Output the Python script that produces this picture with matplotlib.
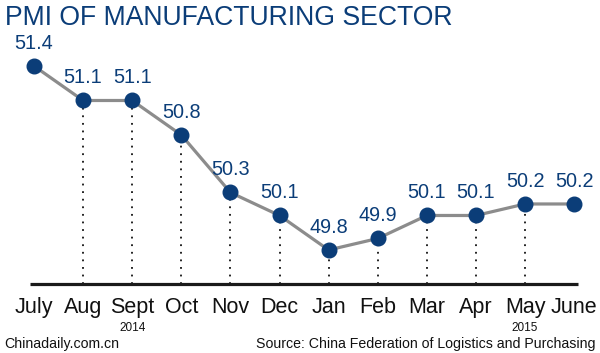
import matplotlib
matplotlib.use("Agg")
import matplotlib.pyplot as plt
import matplotlib.transforms as mtransforms

plt.rcParams['font.family'] = ['Liberation Sans', 'DejaVu Sans']

months = ['July', 'Aug', 'Sept', 'Oct', 'Nov', 'Dec', 'Jan', 'Feb', 'Mar', 'Apr', 'May', 'June']
pmi = [51.4, 51.1, 51.1, 50.8, 50.3, 50.1, 49.8, 49.9, 50.1, 50.1, 50.2, 50.2]
years = {2: '2014', 10: '2015'}

BLUE = '#0b3d78'
H = 353

fig = plt.figure(figsize=(6, 3.53), dpi=100)
ax = fig.add_axes([0, 0, 1, 1])
ax.set_xlim(-0.6925, 11.527)
ax.set_ylim(48.904, 51.974)
ax.axis('off')

x = list(range(len(months)))
base = 49.504

# dotted drop lines (not under first and last point)
for i, v in zip(x, pmi):
    if i == 0 or i == len(x) - 1:
        continue
    ax.plot([i, i], [base, v], color='#111111', lw=1.3, ls=(0, (1, 3.2)), zorder=1)

ax.plot([-0.08, 11.08], [base, base], color='#1a1a1a', lw=2.3, solid_capstyle='butt', zorder=2)

ax.plot(x, pmi, color='#8c8c8c', lw=2.3, zorder=3)
ax.plot(x, pmi, 'o', ms=10.5, color=BLUE, zorder=4)

for i, v in zip(x, pmi):
    ax.annotate(f'{v:.1f}', (i, v), xytext=(0, 12.5), textcoords='offset points',
                ha='center', va='baseline', fontsize=14.3, color=BLUE)

trans = mtransforms.blended_transform_factory(ax.transData, fig.transFigure)
for i, m in enumerate(months):
    ax.text(i, 1 - 313 / H, m, transform=trans, ha='center', va='baseline', fontsize=15.5, color='#111111')
for i, yr in years.items():
    ax.text(i, 1 - 331 / H, yr, transform=trans, ha='center', va='baseline', fontsize=8.5, color='#111111')

fig.text(5 / 600, 1 - 25 / H, 'PMI OF MANUFACTURING SECTOR', ha='left', va='baseline',
         fontsize=19.2, color=BLUE)
fig.text(4 / 600, 1 - 348 / H, 'Chinadaily.com.cn', ha='left', va='baseline', fontsize=10.2, color='#111111')
fig.text(596 / 600, 1 - 348 / H, 'Source: China Federation of Logistics and Purchasing',
         ha='right', va='baseline', fontsize=10.2, color='#111111')

fig.savefig('out.png', dpi=100, facecolor='white')
